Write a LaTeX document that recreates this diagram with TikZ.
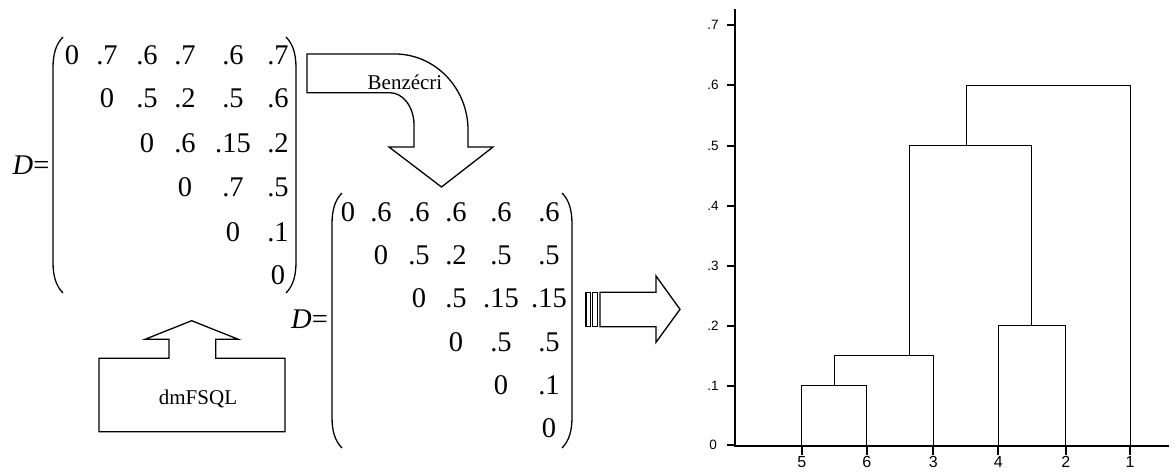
\documentclass[tikz,border=0pt]{standalone}
\usepackage{fontspec}
\setmainfont{Liberation Serif}
\newfontfamily\axfont{Liberation Sans}
\begin{document}
\begin{tikzpicture}[x=1pt,y=-1pt,
  ent/.style={inner sep=0pt,font=\fontsize{28.5}{30}\selectfont},
  lab/.style={inner sep=0pt,font=\fontsize{21}{24}\selectfont},
  paren/.style={line width=1.3pt},
  shapeline/.style={line width=1.3pt,line join=miter},
  ax/.style={line width=2pt},
  tree/.style={line width=1pt},
  ylab/.style={inner sep=0pt,font=\axfont\fontsize{13.5}{14}\selectfont},
  xlab/.style={inner sep=0pt,anchor=base,font=\axfont\fontsize{16}{16}\selectfont}]
\useasboundingbox (0,0) rectangle (1176,472);
\fill[white] (0,0) rectangle (1176,472);

% ---------- first matrix ----------
\node[ent] (d1) at (31,165) {\textit{D}=};
\draw[paren] (63,37) .. controls (56,44) and (53,54) .. (53,68) -- (53,262) .. controls (53,276) and (56,286) .. (63,293);
\draw[paren] (286,37) .. controls (293,44) and (296,54) .. (296,68) -- (296,262) .. controls (296,276) and (293,286) .. (286,293);
\foreach \r/\c/\v in {1/1/0,1/2/.7,1/3/.6,1/4/.7,1/5/.6,1/6/.7,
  2/2/0,2/3/.5,2/4/.2,2/5/.5,2/6/.6,
  3/3/0,3/4/.6,3/5/.15,3/6/.2,
  4/4/0,4/5/.7,4/6/.5,
  5/5/0,5/6/.1,
  6/6/0}{
  \pgfmathsetmacro\xx{{0,72,107,147,185,233,278}[\c]}
  \pgfmathsetmacro\yy{{0,55,98,143,187,232,275}[\r]}
  \node[ent] (a-\r-\c) at (\xx,\yy) {\v};
}

% ---------- second matrix ----------
\node[ent] (d2) at (309.5,319) {\textit{D}=};
\draw[paren] (342,193) .. controls (335,200) and (332,210) .. (332,224) -- (332,417) .. controls (332,431) and (335,441) .. (342,448);
\draw[paren] (562,193) .. controls (569,200) and (572,210) .. (572,224) -- (572,417) .. controls (572,431) and (569,441) .. (562,448);
\foreach \r/\c/\v in {1/1/0,1/2/.6,1/3/.6,1/4/.6,1/5/.6,1/6/.6,
  2/2/0,2/3/.5,2/4/.2,2/5/.5,2/6/.5,
  3/3/0,3/4/.5,3/5/.15,3/6/.15,
  4/4/0,4/5/.5,4/6/.5,
  5/5/0,5/6/.1,
  6/6/0}{
  \pgfmathsetmacro\xx{{0,348,381,419,456,501,549}[\c]}
  \pgfmathsetmacro\yy{{0,212,255,298,342,385,428}[\r]}
  \node[ent] (b-\r-\c) at (\xx,\yy) {\v};
}

% ---------- Benzecri arrow ----------
\draw[shapeline] (307,54) -- (395,54) .. controls (435,54) and (468,88) .. (468,130)
  -- (468,147) -- (493,147) -- (441.5,187) -- (389,147) -- (414,147) -- (414,125)
  .. controls (414,107) and (403,92.7) .. (390,92.7) -- (307,92.7) -- cycle;
\node[lab] (benz) at (405,82) {Benzécri};

% ---------- dmFSQL box ----------
\draw[shapeline] (99,358.3) -- (169,358.3) -- (169,339.3) -- (145,339.3) -- (191.7,320.7)
  -- (238.3,339.3) -- (215.7,339.3) -- (215.7,358.3) -- (285,358.3) -- (285,431.7)
  -- (99,431.7) -- cycle;
\node[lab] (dm) at (198,399) {dmFSQL};

% ---------- striped right arrow ----------
\draw[line width=1.1pt] (586,292.3) rectangle (590.7,326.7);
\draw[line width=1.1pt] (592.3,292.3) rectangle (597.3,326.7);
\draw[shapeline] (600,292.3) -- (656,292.3) -- (656,276) -- (680,309.3) -- (656,342.3)
  -- (656,326.7) -- (600,326.7) -- cycle;

% ---------- dendrogram ----------
\draw[ax] (734.5,9) -- (734.5,446) -- (1169,446);
\foreach \v/\yy in {.7/25,.6/85,.5/145.5,.4/205.5,.3/265.5,.2/325.5,.1/385.5,0/445}{
  \draw[ax] (726.5,\yy) -- (734.5,\yy);
  \node[ylab] (y\yy) at (713,\yy) {\v};
}
\foreach \lab/\xx in {5/801.7,6/866.7,3/933.3,4/998.3,2/1065.7,1/1130}{
  \draw[ax] (\xx,445) -- (\xx,455);
  \node[xlab] (x\lab) at (\xx,467.5) {\lab};
}
% clusters
\draw[tree] (801.7,445) -- (801.7,385.5) -- (866.7,385.5) -- (866.7,445);
\draw[tree] (834.3,385.5) -- (834.3,355.5) -- (933.3,355.5) -- (933.3,445);
\draw[tree] (998.3,445) -- (998.3,325.5) -- (1065.7,325.5) -- (1065.7,445);
\draw[tree] (909,355.5) -- (909,145.5) -- (1031,145.5) -- (1031,325.5);
\draw[tree] (966,145.5) -- (966,85) -- (1130,85) -- (1130,445);
\end{tikzpicture}
\end{document}
